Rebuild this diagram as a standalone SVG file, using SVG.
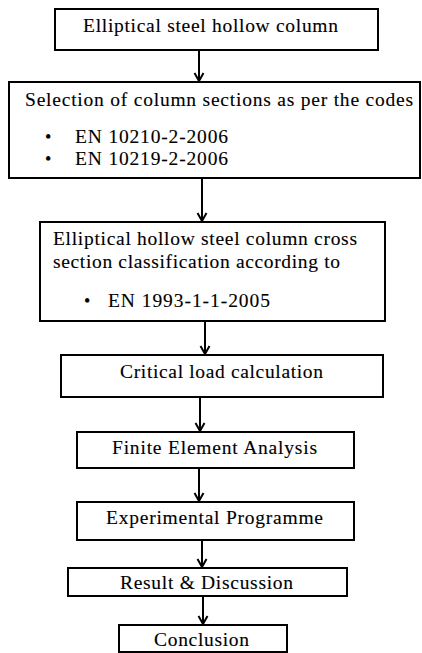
<svg xmlns="http://www.w3.org/2000/svg" width="422" height="653" viewBox="0 0 422 653">
<style>
.box{fill:#fff;stroke:#000;stroke-width:2}
text{font-family:'Liberation Serif', serif;font-size:19.5px;fill:#000;stroke:#000;stroke-width:0.12}
.c{stroke:#000;stroke-width:2;fill:none}
.h{stroke:#000;stroke-width:2;fill:none;stroke-linejoin:miter}
.b{font-size:18px}
</style>
<rect width="422" height="653" fill="#fff"/>
<g id="connectors">
<path class="c" d="M199 50V81"/><path class="h" d="M194.5 73 L199 81 L203.5 73"/>
<path class="c" d="M202 178V221"/><path class="h" d="M197.5 213 L202 221 L206.5 213"/>
<path class="c" d="M205 321V354"/><path class="h" d="M200.5 346 L205 354 L209.5 346"/>
<path class="c" d="M200 397V431"/><path class="h" d="M195.5 423 L200 431 L204.5 423"/>
<path class="c" d="M199 468V501"/><path class="h" d="M194.5 493 L199 501 L203.5 493"/>
<path class="c" d="M202 540V567"/><path class="h" d="M197.5 559 L202 567 L206.5 559"/>
<path class="c" d="M203 596V624"/><path class="h" d="M198.5 616 L203 624 L207.5 616"/>
</g>
<g id="n1">
<rect class="box" x="55" y="9" width="323" height="41"/>
<text x="83" y="32" textLength="255" lengthAdjust="spacing">Elliptical steel hollow column</text>
</g>
<g id="n2">
<rect class="box" x="9" y="82" width="411" height="96"/>
<text x="25" y="106" textLength="388" lengthAdjust="spacing">Selection of column sections as per the codes</text>
<text class="b" x="45" y="143">•</text>
<text x="75" y="143" textLength="153" lengthAdjust="spacing">EN 10210-2-2006</text>
<text class="b" x="45" y="165">•</text>
<text x="75" y="165" textLength="153" lengthAdjust="spacing">EN 10219-2-2006</text>
</g>
<g id="n3">
<rect class="box" x="40" y="222" width="345" height="99"/>
<text x="53" y="245" textLength="304" lengthAdjust="spacing">Elliptical hollow steel column cross</text>
<text x="53" y="268" textLength="287" lengthAdjust="spacing">section classification according to</text>
<text class="b" x="84" y="307">•</text>
<text x="108" y="307" textLength="162" lengthAdjust="spacing">EN 1993-1-1-2005</text>
</g>
<g id="n4">
<rect class="box" x="61" y="355" width="322" height="42"/>
<text x="120" y="378" textLength="203" lengthAdjust="spacing">Critical load calculation</text>
</g>
<g id="n5">
<rect class="box" x="77" y="432" width="277" height="36"/>
<text x="112" y="454" textLength="205" lengthAdjust="spacing">Finite Element Analysis</text>
</g>
<g id="n6">
<rect class="box" x="77" y="502" width="277" height="38"/>
<text x="106" y="524" textLength="217" lengthAdjust="spacing">Experimental Programme</text>
</g>
<g id="n7">
<rect class="box" x="68" y="568" width="279" height="28"/>
<text x="120" y="589" textLength="173" lengthAdjust="spacing">Result &amp; Discussion</text>
</g>
<g id="n8">
<rect class="box" x="119" y="625" width="168" height="27"/>
<text x="154" y="646" textLength="95" lengthAdjust="spacing">Conclusion</text>
</g>
</svg>
